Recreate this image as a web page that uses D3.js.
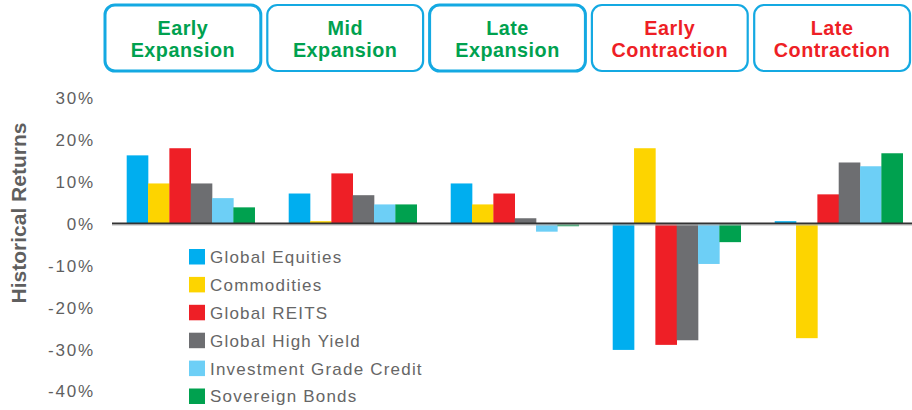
<!DOCTYPE html>
<html><head><meta charset="utf-8">
<script src="https://cdn.jsdelivr.net/npm/d3@7"></script>
<style>body{margin:0;background:#fff}svg{display:block}text{font-family:"Liberation Sans",Arial,sans-serif}</style>
</head><body>
<script>
const categories = ["Early Expansion","Mid Expansion","Late Expansion","Early Contraction","Late Contraction"];
const phaseColorKey = ["up","up","up","down","down"];
const seriesNames = ["Global Equities","Commodities","Global REITS","Global High Yield","Investment Grade Credit","Sovereign Bonds"];
const globalEquities = [16.2, 7.1, 9.5, -30.2, 0.5];
const commodities = [9.5, 0.5, 4.5, 17.9, -27.4];
const globalReits = [17.9, 11.9, 7.1, -29.0, 6.9];
const globalHighYield = [9.5, 6.7, 1.2, -27.9, 14.5];
const investmentGradeCredit = [6.0, 4.5, -2.0, -9.7, 13.6];
const sovereignBonds = [3.8, 4.5, -0.7, -4.5, 16.7];
const yTicks = [30, 20, 10, 0, -10, -20, -30, -40];

const seriesValues = [globalEquities, commodities, globalReits, globalHighYield, investmentGradeCredit, sovereignBonds];
const colors = ["#00aeef","#fdd400","#ee1f26","#6d6e71","#6dcff6","#00a14f"];

const W = 912, H = 410;
const svg = d3.select("body").append("svg").attr("width", W).attr("height", H);

const y = d3.scaleLinear().domain([-40, 30]).range([391, 97.5]);
const x = d3.scaleBand().domain(categories).range([118.6, 910.8]).paddingInner(0.21).paddingOuter(0.05);
const xs = d3.scaleBand().domain(seriesNames).range([0, x.bandwidth()]).padding(0);

// header boxes
const hx = d3.scaleBand().domain(categories).range([105, 910]).paddingInner(0.04).paddingOuter(0);
const hdr = svg.append("g").selectAll("g").data(categories).join("g")
  .attr("transform", d => `translate(${hx(d)},5)`);
hdr.append("rect").attr("x", 0).attr("y", 0).attr("width", hx.bandwidth()).attr("height", 66)
  .attr("rx", 10).attr("ry", 10).attr("fill", "#fff").attr("stroke", "#14a9e2")
  .attr("stroke-width", (d, i) => (i === 0 || i === 2) ? 3 : 2.2);
hdr.each(function(d, i) {
  const parts = d.split(" ");
  const g = d3.select(this);
  parts.forEach((p, j) => {
    g.append("text").attr("x", hx.bandwidth() / 2).attr("y", 30 + j * 22)
      .attr("text-anchor", "middle").attr("font-weight", "bold").attr("font-size", 19.8)
      .attr("letter-spacing", 0.5)
      .attr("fill", phaseColorKey[i] === "up" ? "#00a14f" : "#ee1f26").text(p);
  });
});

// y axis labels
const yAxis = d3.axisLeft(y).tickValues(yTicks).tickFormat(d => d + "%").tickSize(0).tickPadding(0);
const ya = svg.append("g").attr("transform", "translate(95,0)").call(yAxis);
ya.select(".domain").remove();
ya.selectAll("text").attr("font-size", 17).attr("fill", "#5f5f5f").attr("dy", "0.35em")
  .attr("letter-spacing", 1.8)
  .style("font-family", '"Liberation Sans",Arial,sans-serif');

svg.append("text").attr("transform", `translate(25.5,213) rotate(-90)`)
  .attr("text-anchor", "middle").attr("font-weight", "bold").attr("font-size", 21)
  .attr("fill", "#5f5f5f").text("Historical Returns");

// bars
const barData = [];
categories.forEach((c, ci) => seriesNames.forEach((s, si) => barData.push({c, s, si, v: seriesValues[si][ci]})));
svg.append("g").selectAll("rect").data(barData).join("rect")
  .attr("x", d => x(d.c) + xs(d.s))
  .attr("width", xs.bandwidth() + 0.3)
  .attr("y", d => y(Math.max(0, d.v)))
  .attr("height", d => Math.abs(y(d.v) - y(0)))
  .attr("fill", d => colors[d.si]);

// zero line
svg.append("line").attr("x1", 112).attr("x2", 912).attr("y1", y(0) + 1.6).attr("y2", y(0) + 1.6)
  .attr("stroke", "#b5b5b5").attr("stroke-width", 1.2);
svg.append("line").attr("x1", 112).attr("x2", 912).attr("y1", y(0)).attr("y2", y(0))
  .attr("stroke", "#333").attr("stroke-width", 1.8);

// legend
const lg = svg.append("g").selectAll("g").data(seriesNames).join("g")
  .attr("transform", (d, i) => `translate(189,${257 + i * 27.9})`);
lg.append("rect").attr("x", 0).attr("y", -8).attr("width", 16).attr("height", 15.5)
  .attr("fill", (d, i) => colors[i]);
lg.append("text").attr("x", 21).attr("y", 0).attr("dy", "0.35em").attr("font-size", 17)
  .attr("letter-spacing", 1.2)
  .attr("fill", "#666").text(d => d);
</script>
</body></html>
